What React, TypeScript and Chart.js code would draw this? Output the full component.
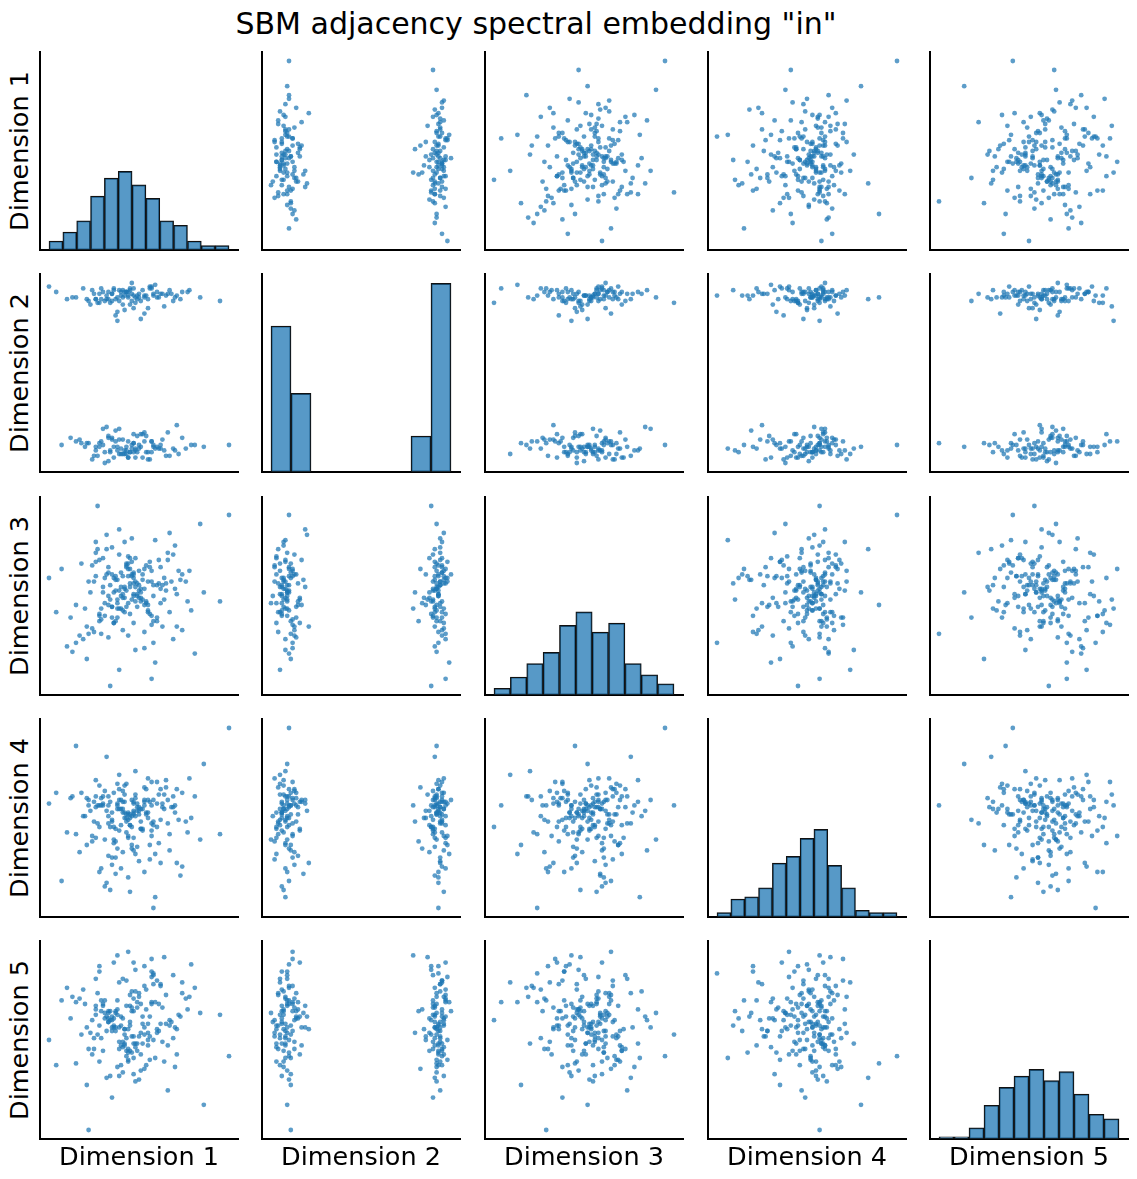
import React, { useEffect, useRef } from "react";
import { Chart, registerables } from "chart.js";

Chart.register(...registerables);

const chartTitle = 'SBM adjacency spectral embedding "in"';
const dimensionLabels = ["Dimension 1", "Dimension 2", "Dimension 3", "Dimension 4", "Dimension 5"];

// Values in axis units: data range of every dimension is 0..100.
// First 100 entries: block with low Dimension 2; last 100: block with high Dimension 2.
const dim1Values = [
  45, 38, 52, 29, 61, 41, 100, 35, 48, 56, 22, 43, 67, 39, 50, 31, 47, 58, 26, 44,
  36, 53, 72, 40, 49, 18, 57, 33, 46, 63, 42, 27, 51, 37, 69, 44, 55, 30, 48, 12,
  60, 39, 47, 34, 53, 76, 41, 24, 50, 45, 37, 58, 32, 43, 65, 28, 46, 54, 40, 81,
  35, 49, 20, 44, 57, 38, 51, 7, 42, 62, 33, 47, 54, 39, 86,
  25, 62, 33, 70, 15, 55, 28, 66, 47, 21, 74, 36, 59, 30, 79, 43, 17, 64, 52, 26,
  71, 34, 57, 48, 31,
  40, 33, 55, 47, 27, 62, 44, 36, 51, 0, 58, 42, 30, 49, 68, 38, 45, 23, 53, 41,
  95, 35, 48, 59, 29, 43, 71, 37, 52, 15, 46, 39, 56, 32, 64, 44, 26, 50, 41, 78,
  34, 47, 57, 21, 43, 38, 53, 66, 31, 45, 49, 10, 40, 55, 36, 60, 28, 46, 42, 74,
  33, 51, 39, 84, 25, 48, 44, 57, 37, 4, 50, 41, 63, 35, 46,
  61, 24, 69, 35, 53, 19, 73, 42, 28, 65, 56, 13, 47, 77, 32, 58, 22, 67, 38, 54,
  29, 70, 45, 60, 26,
];
const dim2Values = [
  6, 9, 3, 12, 8, 5, 10, 14, 7, 2, 11, 9, 4, 13, 8, 6, 16, 10, 7, 3,
  9, 12, 5, 8, 15, 11, 6, 1, 10, 13, 7, 4, 9, 18, 8, 12, 6, 10, 3, 14,
  9, 5, 11, 7, 17, 8, 13, 2, 10, 6, 12, 9, 20, 7, 4, 11, 8, 15, 5, 10,
  13, 6, 9, 3, 12, 7, 16, 10, 5, 8, 14, 11, 6, 19, 9,
  4, 10, 15, 7, 12, 2, 9, 17, 6, 11, 14, 3, 8, 19, 10, 5, 13, 7, 16, 9,
  21, 6, 12, 8, 0,
  93, 95, 91, 97, 89, 94, 92, 96, 90, 98, 93, 85, 95, 91, 94, 92, 97, 88, 93, 96,
  90, 94, 92, 99, 91, 95, 93, 82, 96, 92, 94, 90, 97, 93, 87, 95, 91, 94, 92, 96,
  89, 93, 98, 91, 95, 84, 92, 94, 90, 96, 93, 91, 95, 86, 97, 92, 94, 90, 93, 95,
  91, 80, 96, 92, 94, 89, 93, 97, 91, 95, 92, 88, 94, 90, 100,
  92, 96, 90, 94, 83, 97, 91, 95, 89, 93, 98, 92, 86, 95, 91, 94, 90, 96, 79, 93,
  97, 92, 88, 95, 91,
];
const dim3Values = [
  55, 48, 62, 37, 70, 51, 95, 44, 58, 66, 29, 53, 41, 73, 49, 60, 35, 56, 80, 46,
  52, 21, 64, 43, 57, 68, 39, 50, 61, 33, 54, 76, 47, 59, 26, 65, 42, 52, 71, 38,
  56, 9, 63, 48, 45, 58, 31, 67, 53, 40, 61, 50, 84, 44, 57, 36, 69, 47, 55, 18,
  62, 51, 43, 72, 34, 59, 49, 65, 41, 54, 27, 60, 46, 87, 52,
  30, 66, 45, 78, 24, 58, 39, 70, 50, 15, 62, 35, 81, 55, 42, 68, 28, 60, 48, 74,
  33, 56, 64, 20, 46,
  50, 63, 41, 57, 100, 46, 68, 35, 54, 60, 24, 49, 71, 44, 58, 38, 65, 52, 30, 61,
  47, 77, 55, 13, 43, 66, 51, 36, 59, 45, 82, 53, 40, 62, 48, 28, 69, 56, 42, 64,
  0, 51, 58, 33, 67, 46, 54, 74, 39, 57, 50, 22, 63, 45, 60, 36, 70, 48, 55, 31,
  66, 52, 43, 90, 58, 47, 61, 4, 53, 41, 64, 49, 56, 38, 62,
  57, 32, 73, 44, 65, 26, 59, 80, 40, 53, 69, 19, 62, 47, 76, 36, 58, 85, 43, 67,
  29, 54, 71, 38, 61,
];
const dim4Values = [
  52, 58, 44, 61, 36, 55, 100, 48, 63, 27, 57, 50, 41, 66, 54, 12, 59, 46, 71, 53,
  38, 60, 49, 22, 56, 64, 43, 51, 33, 58, 68, 47, 55, 19, 62, 40, 53, 57, 30, 61,
  45, 74, 52, 10, 59, 48, 65, 37, 56, 50, 28, 60, 54, 42, 67, 57, 35, 52, 46, 62,
  24, 58, 51, 39, 70, 55, 44, 15, 63, 49, 57, 32, 53, 60, 80,
  48, 66, 29, 57, 41, 72, 20, 60, 53, 35, 64, 45, 6, 58, 50, 69, 31, 55, 43, 62,
  25, 59, 47, 76, 38,
  55, 47, 60, 39, 57, 25, 52, 64, 44, 58, 0, 50, 62, 34, 56, 69, 46, 54, 20, 59,
  41, 53, 61, 30, 57, 48, 66, 37, 55, 90, 51, 43, 59, 14, 63, 49, 56, 26, 53, 72,
  45, 58, 40, 61, 52, 33, 57, 47, 65, 9, 54, 42, 60, 50, 36, 58, 68, 45, 53, 23,
  62, 48, 55, 38, 59, 51, 17, 57, 44, 64, 52, 31, 56, 49, 60,
  63, 40, 56, 28, 67, 51, 18, 59, 45, 71, 35, 62, 54, 42, 84, 48, 60, 32, 57, 66,
  22, 53, 46, 70, 39,
];
const dim5Values = [
  60, 72, 48, 66, 55, 84, 41, 63, 77, 52, 0, 69, 58, 45, 74, 62, 93, 50, 67, 38,
  57, 80, 64, 47, 71, 53, 88, 60, 43, 68, 56, 76, 33, 65, 51, 99, 59, 70, 46, 62,
  54, 82, 40, 66, 57, 73, 49, 61, 28, 69, 55, 86, 63, 44, 75, 58, 52, 67, 36, 79,
  61, 48, 70, 56, 95, 64, 42, 72, 53, 59, 66, 31, 78, 57, 14,
  45, 80, 62, 35, 71, 54, 88, 47, 66, 25, 76, 58, 40, 69, 92, 51, 73, 38, 63, 84,
  56, 30, 70, 48, 65,
  58, 65, 47, 73, 53, 81, 39, 62, 70, 50, 87, 56, 44, 68, 60, 35, 75, 54, 91, 46,
  64, 57, 27, 71, 51, 83, 42, 66, 59, 37, 77, 49, 63, 55, 96, 45, 69, 52, 32, 74,
  61, 48, 85, 57, 41, 67, 53, 22, 72, 58, 44, 79, 63, 50, 93, 56, 38, 68, 47, 82,
  60, 54, 30, 65, 51, 89, 43, 71, 57, 36, 76, 62, 49, 18, 66,
  70, 42, 86, 55, 34, 78, 63, 48, 91, 59, 39, 74, 52, 67, 29, 81, 45, 61, 97, 36,
  72, 57, 44, 83, 64,
];

// Histogram counts per bin (bins span the data range 0..100 evenly)
const hist1Counts = [4, 8, 13, 24, 32, 35, 29, 23, 13, 11, 4, 2, 2];
const hist2Counts = [65, 35, 0, 0, 0, 0, 0, 16, 84];
const hist3Counts = [3, 8, 14, 19, 31, 37, 28, 32, 14, 9, 5];
const hist4Counts = [2, 8, 9, 13, 24, 27, 35, 39, 23, 13, 3, 2, 2];
const hist5Counts = [1, 1, 5, 15, 23, 28, 31, 26, 30, 20, 11, 9];

const allDims = [dim1Values, dim2Values, dim3Values, dim4Values, dim5Values];
const allHists = [hist1Counts, hist2Counts, hist3Counts, hist4Counts, hist5Counts];

const DATA_MIN = 0;
const DATA_MAX = 100;
const AXIS_MIN = -5;
const AXIS_MAX = 105;
const HIST_MAX = 84 * 1.05;

const panelLefts = [40, 262, 485, 708, 930];
const panelTops = [52, 274, 497, 719, 941];
const PANEL_W = 198;
const PANEL_H = 198;
const PAD = 4;

const FONT = "'DejaVu Sans', 'Liberation Sans', sans-serif";
const POINT_COLOR = "rgba(31,119,180,0.72)";
const BAR_COLOR = "rgba(31,119,180,0.75)";

function axisOpts(min: number, max: number) {
  return {
    type: "linear" as const,
    min,
    max,
    ticks: { display: false },
    grid: { display: false, drawTicks: false },
    border: { display: true, color: "#000", width: 2 },
  };
}

function Panel({ row, col }: { row: number; col: number }) {
  const ref = useRef<HTMLCanvasElement | null>(null);
  useEffect(() => {
    if (!ref.current) return;
    let chart: Chart;
    if (row === col) {
      const counts = allHists[row];
      const binW = (DATA_MAX - DATA_MIN) / counts.length;
      chart = new Chart(ref.current, {
        type: "bar",
        data: {
          datasets: [
            {
              data: counts.map((c, b) => ({ x: DATA_MIN + (b + 0.5) * binW, y: c })),
              backgroundColor: BAR_COLOR,
              borderColor: "#111",
              borderWidth: 1.2,
              borderSkipped: false,
              barPercentage: 1,
              categoryPercentage: 1,
            } as any,
          ],
        },
        options: {
          animation: false,
          responsive: false,
          events: [],
          layout: { padding: PAD },
          plugins: { legend: { display: false }, tooltip: { enabled: false } },
          scales: {
            x: { ...axisOpts(AXIS_MIN, AXIS_MAX), offset: false } as any,
            y: axisOpts(0, HIST_MAX) as any,
          },
        },
      });
    } else {
      const xs = allDims[col];
      const ys = allDims[row];
      chart = new Chart(ref.current, {
        type: "scatter",
        data: {
          datasets: [
            {
              data: xs.map((x, k) => ({ x, y: ys[k] })),
              backgroundColor: POINT_COLOR,
              borderWidth: 0,
              pointRadius: 2.4,
            },
          ],
        },
        options: {
          animation: false,
          responsive: false,
          events: [],
          layout: { padding: PAD },
          plugins: { legend: { display: false }, tooltip: { enabled: false } },
          scales: {
            x: axisOpts(AXIS_MIN, AXIS_MAX) as any,
            y: axisOpts(AXIS_MIN, AXIS_MAX) as any,
          },
        },
      });
    }
    return () => chart.destroy();
  }, [row, col]);
  return (
    <canvas
      ref={ref}
      width={PANEL_W + 2 * PAD}
      height={PANEL_H + 2 * PAD}
      style={{
        position: "absolute",
        left: panelLefts[col] - PAD,
        top: panelTops[row] - PAD,
        width: PANEL_W + 2 * PAD,
        height: PANEL_H + 2 * PAD,
      }}
    />
  );
}

export default function App() {
  const panels = [];
  for (let r = 0; r < 5; r++) {
    for (let c = 0; c < 5; c++) {
      panels.push(<Panel key={`${r}-${c}`} row={r} col={c} />);
    }
  }
  return (
    <div
      style={{
        position: "absolute",
        left: 0,
        top: 0,
        width: 1137,
        height: 1179,
        background: "#fff",
        fontFamily: FONT,
        color: "#000",
        overflow: "hidden",
      }}
    >
      <div
        style={{
          position: "absolute",
          left: 536,
          top: 24,
          transform: "translate(-50%, -50%)",
          fontSize: 30,
          whiteSpace: "nowrap",
          lineHeight: 1,
        }}
      >
        {chartTitle}
      </div>
      {panels}
      {dimensionLabels.map((lab, i) => (
        <div
          key={`y-${i}`}
          style={{
            position: "absolute",
            left: 20,
            top: panelTops[i] + PANEL_H / 2,
            transform: "translate(-50%, -50%) rotate(-90deg)",
            fontSize: 25.5,
            whiteSpace: "nowrap",
            lineHeight: 1,
          }}
        >
          {lab}
        </div>
      ))}
      {dimensionLabels.map((lab, i) => (
        <div
          key={`x-${i}`}
          style={{
            position: "absolute",
            left: panelLefts[i] + PANEL_W / 2,
            top: 1157,
            transform: "translate(-50%, -50%)",
            fontSize: 25.5,
            whiteSpace: "nowrap",
            lineHeight: 1,
          }}
        >
          {lab}
        </div>
      ))}
    </div>
  );
}
